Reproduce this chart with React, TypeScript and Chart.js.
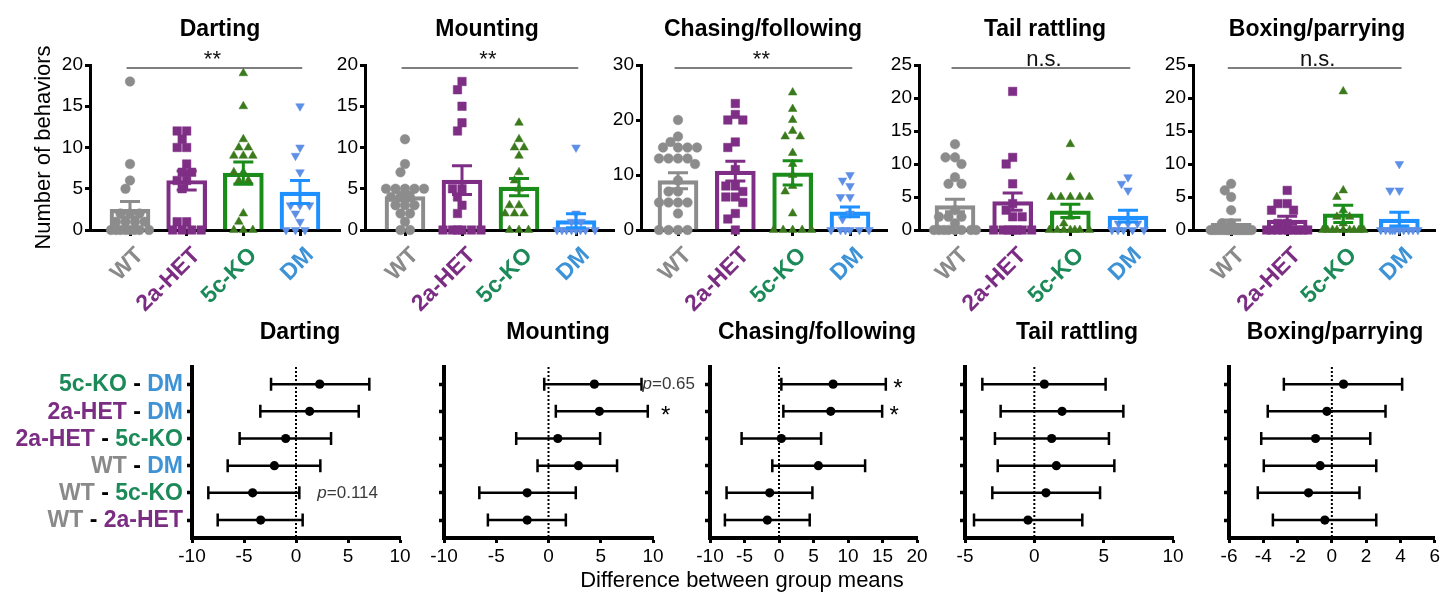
import React, { useEffect, useRef } from 'react';
import { Chart, registerables } from 'chart.js';

Chart.register(...registerables);

const FONT = '"Liberation Sans", Arial, Helvetica, sans-serif';
Chart.defaults.font.family = FONT;
Chart.defaults.color = '#000';

// ---------------- categories ----------------
const GROUPS = ['WT', '2a-HET', '5c-KO', 'DM'];
const BEHAVIORS = ['Darting', 'Mounting', 'Chasing/following', 'Tail rattling', 'Boxing/parrying'];

const GROUP_LABEL_COLORS = ['#8a8a8a', '#7b2d83', '#1c8a58', '#3d93d6'];
const GROUP_BAR_COLORS = ['#8c8c8c', '#7e2f85', '#1a8c1a', '#1e90ff'];
const GROUP_POINT_COLORS = ['#8c8c8c', '#7e2f85', '#3b7a1c', '#5d8fe6'];
const GROUP_POINT_STYLES = ['circle', 'rect', 'triangle', 'triangle'];
const GROUP_POINT_ROT = [0, 0, 0, 180];
const GROUP_POINT_RADIUS = [4.8, 6, 5, 5];

// ---------------- individual animals (number of behaviors) ----------------
const dartingWT = [18, 8, 6, 5, 2, 2, 2, 1, 1, 1, 1, 0, 0, 0, 0, 0, 0, 0, 0];
const dartingHET = [12, 12, 11, 10, 10, 8, 7, 7, 6, 6, 5, 1, 1, 0, 0, 0, 0];
const dartingKO = [19, 15, 11, 10, 10, 9, 9, 9, 7, 7, 6, 6, 2, 1, 0, 0, 0];
const dartingDM = [15, 10, 9, 7, 3, 3, 3, 2, 1, 0, 0, 0];

const mountingWT = [11, 8, 7, 5, 5, 5, 5, 5, 4, 4, 4, 3, 3, 3, 2, 2, 1, 0, 0];
const mountingHET = [18, 17, 15, 13, 12, 5, 5, 4, 3, 2, 0, 0, 0, 0, 0, 0];
const mountingKO = [13, 11, 10, 10, 9, 7, 6, 5, 3, 3, 2, 2, 2, 0, 0, 0];
const mountingDM = [10, 2, 1, 1, 0, 0, 0, 0, 0, 0, 0, 0];

const chasingWT = [20, 17, 16, 15, 15, 15, 15, 13, 13, 13, 13, 12, 9, 7, 7, 5, 5, 5, 5, 3, 0, 0, 0, 0];
const chasingHET = [23, 21, 20, 20, 16, 15, 11, 8, 8, 7, 6, 6, 5, 3, 2, 0];
const chasingKO = [25, 22, 20, 18, 17, 17, 14, 12, 10, 8, 7, 3, 0, 0, 0, 0, 0];
const chasingDM = [10, 9, 8, 6, 6, 3, 2, 0, 0, 0, 0, 0, 0];

const tailWT = [13, 11, 11, 10, 8, 7, 7, 3, 2, 2, 2, 1, 0, 0, 0, 0, 0, 0, 0, 0];
const tailHET = [21, 11, 10, 7, 4, 3, 2, 2, 0, 0, 0, 0, 0, 0, 0];
const tailKO = [13, 8, 5, 5, 5, 5, 5, 2, 1, 0, 0, 0, 0, 0, 0, 0];
const tailDM = [8, 7, 6, 1, 1, 1, 0, 0, 0, 0, 0];

const boxingWT = [7, 6, 5, 3, 1, 1, 0, 0, 0, 0, 0, 0, 0, 0, 0, 0, 0, 0, 0, 0, 0, 0, 0, 0];
const boxingHET = [6, 4, 4, 3, 3, 1, 1, 0, 0, 0, 0, 0, 0, 0, 0, 0];
const boxingKO = [21, 6, 5, 3, 2, 2, 1, 0, 0, 0, 0, 0, 0, 0, 0, 0];
const boxingDM = [10, 6, 6, 0, 0, 0, 0, 0, 0, 0, 0, 0, 0];

// ---------------- bar means and SEM ----------------
const dartingMean = [2.5, 6.0, 6.9, 4.6];
const dartingSEM = [0.95, 1.15, 1.35, 1.4];
const mountingMean = [4.05, 6.05, 5.2, 1.13];
const mountingSEM = [0.5, 1.75, 1.05, 0.85];
const chasingMean = [8.97, 10.7, 10.4, 3.3];
const chasingSEM = [1.45, 1.8, 2.2, 0.9];
const tailMean = [3.7, 4.3, 2.9, 2.1];
const tailSEM = [0.95, 1.3, 1.0, 0.9];
const boxingMean = [1.0, 1.5, 2.45, 1.65];
const boxingSEM = [0.5, 0.6, 1.3, 1.05];

const TOP_VALUES = [
  [dartingWT, dartingHET, dartingKO, dartingDM],
  [mountingWT, mountingHET, mountingKO, mountingDM],
  [chasingWT, chasingHET, chasingKO, chasingDM],
  [tailWT, tailHET, tailKO, tailDM],
  [boxingWT, boxingHET, boxingKO, boxingDM],
];
const TOP_MEANS = [dartingMean, mountingMean, chasingMean, tailMean, boxingMean];
const TOP_SEMS = [dartingSEM, mountingSEM, chasingSEM, tailSEM, boxingSEM];
const TOP_Y_MAX = [20, 20, 30, 25, 25];
const TOP_Y_STEP = [5, 5, 10, 5, 5];
const TOP_SIG = ['**', '**', '**', 'n.s.', 'n.s.'];

// ---------------- pairwise comparisons (top row to bottom row) ----------------
const COMP_A = ['5c-KO', '2a-HET', '2a-HET', 'WT', 'WT', 'WT'];
const COMP_B = ['DM', 'DM', '5c-KO', 'DM', '5c-KO', '2a-HET'];

const dartingDiff = [2.28, 1.31, -0.99, -2.08, -4.17, -3.4];
const dartingLo = [-2.4, -3.43, -5.42, -6.57, -8.43, -7.53];
const dartingHi = [7.05, 6.03, 3.37, 2.34, 0.32, 0.64];
const mountingDiff = [4.39, 4.87, 0.89, 2.87, -2.04, -2.04];
const mountingLo = [-0.41, 0.7, -3.09, -1.05, -6.62, -5.8];
const mountingHi = [8.9, 9.5, 4.94, 6.56, 2.61, 1.66];
const chasingDiff = [7.84, 7.5, 0.34, 5.71, -1.35, -1.69];
const chasingLo = [0.34, 0.63, -5.42, -0.97, -7.6, -7.84];
const chasingHi = [15.48, 14.95, 6.1, 12.48, 4.84, 4.45];
const tailDiff = [0.72, 2.0, 1.25, 1.59, 0.84, -0.46];
const tailLo = [-3.75, -2.43, -2.84, -2.64, -3.03, -4.35];
const tailHi = [5.14, 6.42, 5.38, 5.77, 4.74, 3.46];
const boxingDiff = [0.68, -0.29, -0.95, -0.68, -1.36, -0.41];
const boxingLo = [-2.8, -3.74, -4.12, -3.97, -4.32, -3.44];
const boxingHi = [4.1, 3.13, 2.24, 2.59, 1.61, 2.59];

const BOT_DIFF = [dartingDiff, mountingDiff, chasingDiff, tailDiff, boxingDiff];
const BOT_LO = [dartingLo, mountingLo, chasingLo, tailLo, boxingLo];
const BOT_HI = [dartingHi, mountingHi, chasingHi, tailHi, boxingHi];
const BOT_X_MIN = [-10, -10, -10, -5, -6];
const BOT_X_MAX = [10, 10, 20, 10, 6];
const BOT_X_STEP = [5, 5, 5, 5, 2];

// annotations: panel, row, text
const NOTE_PANEL = [0, 1, 1, 2, 2];
const NOTE_ROW = [4, 0, 1, 0, 1];
const NOTE_TEXT = ['p=0.114', 'p=0.65', '*', '*', '*'];

const X_AXIS_TITLE = 'Difference between group means';
const Y_AXIS_TITLE = 'Number of behaviors';

// ---------------- layout (page pixels) ----------------
const TOP_LAYOUT = [
  { canvasLeft: 0, canvasRight: 352, areaLeft: 90, areaRight: 340, wtX: 130, dmX: 300, titleX: 220 },
  { canvasLeft: 300, canvasRight: 625, areaLeft: 365, areaRight: 614, wtX: 405, dmX: 576, titleX: 487 },
  { canvasLeft: 580, canvasRight: 897, areaLeft: 641, areaRight: 887, wtX: 678, dmX: 850, titleX: 763 },
  { canvasLeft: 858, canvasRight: 1175, areaLeft: 919, areaRight: 1165, wtX: 955, dmX: 1128, titleX: 1045 },
  { canvasLeft: 1132, canvasRight: 1442, areaLeft: 1193, areaRight: 1441, wtX: 1232, dmX: 1404, titleX: 1317 },
];
const TOP_AREA_TOP = 65;
const TOP_AREA_BOTTOM = 230;
const TOP_CANVAS_H = 322;
const SWARM_DIAMETER = 9.2;
const SWARM_MAX_OFFSET = 21;

const BOT_LAYOUT = [
  { canvasLeft: 0, canvasRight: 420, areaLeft: 192, areaRight: 400, titleX: 300 },
  { canvasLeft: 420, canvasRight: 720, areaLeft: 444, areaRight: 653, titleX: 558 },
  { canvasLeft: 690, canvasRight: 945, areaLeft: 710, areaRight: 917, titleX: 817 },
  { canvasLeft: 940, canvasRight: 1195, areaLeft: 965, areaRight: 1173, titleX: 1077 },
  { canvasLeft: 1200, canvasRight: 1442, areaLeft: 1229, areaRight: 1435, titleX: 1335 },
];
const NOTE_GAP = [18, 1, 18, 12, 12];
const BOT_CANVAS_TOP = 300;
const BOT_AREA_TOP = 367;
const BOT_AREA_BOTTOM = 538;
const BOT_CANVAS_BOTTOM = 597;
const ROW_MIN = -0.66;
const ROW_MAX = 5.63;

function labelColor(name: string): string {
  const i = GROUPS.indexOf(name);
  return i >= 0 ? GROUP_LABEL_COLORS[i] : '#000';
}

// beeswarm layout of one group's points (offsets in pixels, returned in x units)
function swarm(vals: number[], g: number, pxPerY: number, pxPerX: number) {
  const order = vals.map((v, i) => i).sort((a, b) => vals[b] - vals[a]);
  const placed: { x: number; y: number }[] = [];
  const out: { x: number; y: number }[] = new Array(vals.length);
  const D = SWARM_DIAMETER;
  order.forEach((i) => {
    const py = vals[i] * pxPerY;
    let best = 0;
    let bestFree = Infinity;
    let bestScore = -Infinity;
    let bestScoreX = 0;
    for (let cx = -SWARM_MAX_OFFSET; cx <= SWARM_MAX_OFFSET; cx += 0.5) {
      let minD = Infinity;
      for (const p of placed) {
        const d = Math.hypot(p.x - cx, p.y - py);
        if (d < minD) minD = d;
      }
      if (minD >= D && Math.abs(cx) < bestFree) {
        bestFree = Math.abs(cx);
        best = cx;
      }
      const score = Math.min(minD, D) - Math.abs(cx) * 0.001;
      if (score > bestScore) {
        bestScore = score;
        bestScoreX = cx;
      }
    }
    const x = bestFree < Infinity ? best : bestScoreX;
    placed.push({ x, y: py });
    out[i] = { x: g + x / pxPerX, y: vals[i] };
  });
  return out;
}

function TopPanel({ idx }: { idx: number }) {
  const ref = useRef<HTMLCanvasElement | null>(null);
  const L = TOP_LAYOUT[idx];
  const cw = L.canvasRight - L.canvasLeft;
  useEffect(() => {
    if (!ref.current) return;
    const unit = (L.dmX - L.wtX) / 3;
    const xMin = -(L.wtX - L.areaLeft) / unit;
    const xMax = 3 + (L.areaRight - L.dmX) / unit;
    const pxPerY = (TOP_AREA_BOTTOM - TOP_AREA_TOP) / TOP_Y_MAX[idx];
    const datasets: any[] = [
      {
        type: 'bar',
        data: TOP_MEANS[idx].map((m, g) => ({ x: g, y: m })),
        backgroundColor: 'rgba(255,255,255,0)',
        borderColor: GROUP_BAR_COLORS,
        borderWidth: 3.5,
        borderSkipped: 'start',
        barThickness: 40,
        order: 2,
      },
    ];
    TOP_VALUES[idx].forEach((vals, g) => {
      datasets.push({
        type: 'scatter',
        data: swarm(vals, g, pxPerY, unit),
        pointStyle: GROUP_POINT_STYLES[g],
        rotation: GROUP_POINT_ROT[g],
        pointRotation: GROUP_POINT_ROT[g],
        pointRadius: GROUP_POINT_RADIUS[g],
        backgroundColor: GROUP_POINT_COLORS[g],
        borderColor: GROUP_POINT_COLORS[g],
        borderWidth: 0.5,
        clip: false,
        order: 1,
      });
    });

    const decor = {
      id: 'topDecor',
      afterDatasetsDraw(chart: any) {
        const { ctx, scales } = chart;
        const xs = scales.x;
        const ys = scales.y;
        TOP_MEANS[idx].forEach((m, g) => {
          const s = TOP_SEMS[idx][g];
          const x = xs.getPixelForValue(g);
          const yHi = ys.getPixelForValue(m + s);
          const yLo = ys.getPixelForValue(Math.max(0, m - s));
          ctx.save();
          ctx.strokeStyle = GROUP_BAR_COLORS[g];
          ctx.lineWidth = 3;
          ctx.beginPath();
          ctx.moveTo(x, yHi);
          ctx.lineTo(x, yLo);
          ctx.moveTo(x - 10, yHi);
          ctx.lineTo(x + 10, yHi);
          ctx.moveTo(x - 10, yLo);
          ctx.lineTo(x + 10, yLo);
          ctx.stroke();
          ctx.restore();
        });
      },
      afterDraw(chart: any) {
        const { ctx, chartArea, scales } = chart;
        const xs = scales.x;
        ctx.save();
        ctx.fillStyle = '#000';
        ctx.font = `bold 23px ${FONT}`;
        ctx.textAlign = 'center';
        ctx.textBaseline = 'alphabetic';
        ctx.fillText(BEHAVIORS[idx], L.titleX - L.canvasLeft, 36);
        const ly = chartArea.top + 3;
        const x1 = xs.getPixelForValue(-0.06);
        const x2 = xs.getPixelForValue(3.04);
        ctx.strokeStyle = '#555';
        ctx.lineWidth = 1.5;
        ctx.beginPath();
        ctx.moveTo(x1, ly);
        ctx.lineTo(x2, ly);
        ctx.stroke();
        ctx.font = `22px ${FONT}`;
        ctx.fillStyle = '#111';
        ctx.fillText(TOP_SIG[idx], (x1 + x2) / 2 + (TOP_SIG[idx] === '**' ? -2 : 3), ly - 2.5);
        if (idx === 0) {
          ctx.translate(44, (chartArea.top + chartArea.bottom) / 2);
          ctx.rotate(-Math.PI / 2);
          ctx.textBaseline = 'middle';
          ctx.fillStyle = '#000';
          ctx.font = `22px ${FONT}`;
          ctx.fillText(Y_AXIS_TITLE, 0, 0);
        }
        ctx.restore();
      },
    };

    const chart = new Chart(ref.current, {
      type: 'bar',
      data: { datasets },
      options: {
        animation: false,
        responsive: false,
        events: [],
        layout: {
          padding: { left: 0, top: TOP_AREA_TOP, right: L.canvasRight - L.areaRight, bottom: 0 },
        },
        plugins: { legend: { display: false }, tooltip: { enabled: false }, title: { display: false } },
        scales: {
          x: {
            type: 'linear',
            min: xMin,
            max: xMax,
            offset: false,
            afterBuildTicks: (scale: any) => {
              scale.ticks = GROUPS.map((_, i) => ({ value: i }));
            },
            afterFit: (scale: any) => {
              scale.height = TOP_CANVAS_H - TOP_AREA_BOTTOM;
            },
            ticks: {
              autoSkip: false,
              minRotation: 45,
              maxRotation: 45,
              padding: 6,
              labelOffset: 10,
              font: { size: 23, weight: 'bold' },
              color: (c: any) => GROUP_LABEL_COLORS[c.index] || '#000',
              callback: (v: any) => GROUPS[Math.round(Number(v))] ?? '',
            },
            grid: {
              offset: false,
              drawOnChartArea: false,
              drawTicks: true,
              tickLength: 6,
              tickWidth: 3,
              tickColor: '#000',
              color: '#000',
            },
            border: { display: true, width: 3, color: '#000' },
          },
          y: {
            type: 'linear',
            min: 0,
            max: TOP_Y_MAX[idx],
            afterFit: (scale: any) => {
              scale.width = L.areaLeft - L.canvasLeft;
            },
            ticks: { stepSize: TOP_Y_STEP[idx], font: { size: 19 }, color: '#000', padding: 2 },
            grid: {
              drawOnChartArea: false,
              drawTicks: true,
              tickLength: 5,
              tickWidth: 3,
              tickColor: '#000',
              color: '#000',
            },
            border: { display: true, width: 3, color: '#000' },
          },
        },
      } as any,
      plugins: [decor],
    } as any);
    return () => chart.destroy();
  }, [idx]);
  return (
    <canvas
      ref={ref}
      width={cw}
      height={TOP_CANVAS_H}
      style={{ position: 'absolute', left: L.canvasLeft, top: 0, width: cw, height: TOP_CANVAS_H }}
    />
  );
}

function BottomPanel({ idx }: { idx: number }) {
  const ref = useRef<HTMLCanvasElement | null>(null);
  const L = BOT_LAYOUT[idx];
  const cw = L.canvasRight - L.canvasLeft;
  const ch = BOT_CANVAS_BOTTOM - BOT_CANVAS_TOP;
  useEffect(() => {
    if (!ref.current) return;
    const n = COMP_A.length;
    const rowVal = (i: number) => n - 1 - i;
    const decor = {
      id: 'botDecor',
      beforeDatasetsDraw(chart: any) {
        const { ctx, chartArea, scales } = chart;
        const xs = scales.x;
        const ys = scales.y;
        ctx.save();
        const x0 = xs.getPixelForValue(0);
        ctx.strokeStyle = '#000';
        ctx.lineWidth = 2;
        ctx.setLineDash([2, 2]);
        ctx.beginPath();
        ctx.moveTo(x0, chartArea.top);
        ctx.lineTo(x0, chartArea.bottom);
        ctx.stroke();
        ctx.setLineDash([]);
        ctx.lineWidth = 2.5;
        for (let i = 0; i < n; i++) {
          const y = ys.getPixelForValue(rowVal(i));
          const a = xs.getPixelForValue(BOT_LO[idx][i]);
          const b = xs.getPixelForValue(BOT_HI[idx][i]);
          ctx.beginPath();
          ctx.moveTo(a, y);
          ctx.lineTo(b, y);
          ctx.moveTo(a, y - 6.5);
          ctx.lineTo(a, y + 6.5);
          ctx.moveTo(b, y - 6.5);
          ctx.lineTo(b, y + 6.5);
          ctx.stroke();
        }
        ctx.restore();
      },
      afterDraw(chart: any) {
        const { ctx, chartArea, scales } = chart;
        const xs = scales.x;
        const ys = scales.y;
        ctx.save();
        ctx.fillStyle = '#000';
        ctx.font = `bold 23px ${FONT}`;
        ctx.textAlign = 'center';
        ctx.textBaseline = 'alphabetic';
        ctx.fillText(BEHAVIORS[idx], L.titleX - L.canvasLeft, 39);
        if (idx === 0) {
          ctx.textAlign = 'left';
          ctx.textBaseline = 'middle';
          ctx.font = `bold 23px ${FONT}`;
          for (let i = 0; i < n; i++) {
            const y = ys.getPixelForValue(rowVal(i)) + 1;
            const parts: [string, string][] = [
              [COMP_A[i], labelColor(COMP_A[i])],
              [' - ', '#000'],
              [COMP_B[i], labelColor(COMP_B[i])],
            ];
            let x = chartArea.left - 9;
            for (let p = parts.length - 1; p >= 0; p--) {
              const w = ctx.measureText(parts[p][0]).width;
              x -= w;
              ctx.fillStyle = parts[p][1];
              ctx.fillText(parts[p][0], x, y);
            }
          }
        }
        ctx.textBaseline = 'middle';
        NOTE_PANEL.forEach((p, k) => {
          if (p !== idx) return;
          const row = NOTE_ROW[k];
          const y = ys.getPixelForValue(rowVal(row));
          const xStart = xs.getPixelForValue(BOT_HI[idx][row]) + NOTE_GAP[k];
          const text = NOTE_TEXT[k];
          if (text.startsWith('p=')) {
            ctx.textAlign = 'left';
            ctx.fillStyle = '#3a3a3a';
            ctx.font = `italic 17px ${FONT}`;
            ctx.fillText('p', xStart, y);
            const w = ctx.measureText('p').width;
            ctx.font = `17px ${FONT}`;
            ctx.fillText(text.slice(1), xStart + w, y);
          } else {
            ctx.textAlign = 'center';
            ctx.fillStyle = '#000';
            ctx.font = `24px ${FONT}`;
            ctx.fillText(text, xStart, y + 5);
          }
        });
        ctx.restore();
      },
    };

    const chart = new Chart(ref.current, {
      type: 'scatter',
      data: {
        datasets: [
          {
            data: BOT_DIFF[idx].map((d, i) => ({ x: d, y: rowVal(i) })),
            pointRadius: 4.6,
            backgroundColor: '#000',
            borderColor: '#000',
            borderWidth: 0,
          },
        ],
      },
      options: {
        animation: false,
        responsive: false,
        events: [],
        layout: {
          padding: { left: 0, top: BOT_AREA_TOP - BOT_CANVAS_TOP, right: L.canvasRight - L.areaRight, bottom: 0 },
        },
        plugins: { legend: { display: false }, tooltip: { enabled: false }, title: { display: false } },
        scales: {
          x: {
            type: 'linear',
            min: BOT_X_MIN[idx],
            max: BOT_X_MAX[idx],
            afterFit: (scale: any) => {
              scale.height = BOT_CANVAS_BOTTOM - BOT_AREA_BOTTOM;
            },
            ticks: { stepSize: BOT_X_STEP[idx], font: { size: 19 }, color: '#000', padding: 2, maxRotation: 0 },
            grid: {
              drawOnChartArea: false,
              drawTicks: true,
              tickLength: 5,
              tickWidth: 3,
              tickColor: '#000',
              color: '#000',
            },
            border: { display: true, width: 4, color: '#000' },
          },
          y: {
            type: 'linear',
            min: ROW_MIN,
            max: ROW_MAX,
            afterBuildTicks: (scale: any) => {
              scale.ticks = COMP_A.map((_, i) => ({ value: i }));
            },
            afterFit: (scale: any) => {
              scale.width = L.areaLeft - L.canvasLeft;
            },
            ticks: { callback: () => '', padding: 0 },
            grid: {
              drawOnChartArea: false,
              drawTicks: true,
              tickLength: 5,
              tickWidth: 3.5,
              tickColor: '#000',
              color: '#000',
            },
            border: { display: true, width: 4, color: '#000' },
          },
        },
      } as any,
      plugins: [decor],
    } as any);
    return () => chart.destroy();
  }, [idx]);
  return (
    <canvas
      ref={ref}
      width={cw}
      height={ch}
      style={{ position: 'absolute', left: L.canvasLeft, top: BOT_CANVAS_TOP, width: cw, height: ch }}
    />
  );
}

export default function App() {
  return (
    <div style={{ position: 'absolute', left: 0, top: 0, width: 1442, height: 597, background: '#fff', overflow: 'hidden' }}>
      {BEHAVIORS.map((_, i) => (
        <TopPanel key={'t' + i} idx={i} />
      ))}
      {BEHAVIORS.map((_, i) => (
        <BottomPanel key={'b' + i} idx={i} />
      ))}
      <div
        style={{
          position: 'absolute',
          left: 542,
          top: 567,
          width: 400,
          textAlign: 'center',
          font: `22px ${FONT}`,
          lineHeight: '26px',
          color: '#000',
        }}
      >
        {X_AXIS_TITLE}
      </div>
    </div>
  );
}
